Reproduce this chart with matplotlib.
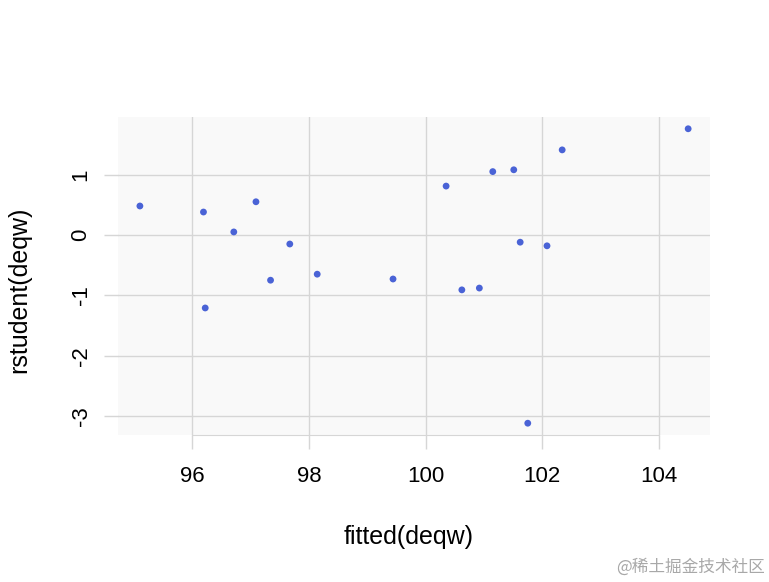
import matplotlib.pyplot as plt
import numpy as np

plt.rcParams['font.family'] = ['Liberation Sans', 'DejaVu Sans']
plt.rcParams['axes.unicode_minus'] = False

# fitted values and studentized residuals
fitted = [95.10, 96.19, 96.22, 96.71, 97.09, 97.34, 97.67, 98.14, 99.44, 100.35,
          100.62, 100.92, 101.15, 101.51, 101.62, 101.75, 102.08, 102.34, 104.50]
rstud = [0.48, 0.38, -1.21, 0.05, 0.55, -0.75, -0.15, -0.65, -0.73, 0.81,
         -0.91, -0.88, 1.05, 1.08, -0.12, -3.12, -0.18, 1.41, 1.76]
xticks = [96, 98, 100, 102, 104]
yticks = [-3, -2, -1, 0, 1]

fig = plt.figure(figsize=(7.69, 5.82), dpi=100)
ax = fig.add_axes([0.1534, 0.2526, 0.770, 0.5464])
ax.set_facecolor('#f9f9f9')

# R-style 4% padding on the ranges
xr = max(fitted) - min(fitted)
yr = max(rstud) - min(rstud)
ax.set_xlim(min(fitted) - 0.04 * xr, max(fitted) + 0.04 * xr)
ax.set_ylim(min(rstud) - 0.04 * yr, max(rstud) + 0.04 * yr)

gridc = '#d6d6d6'
ax.set_xticks(xticks)
ax.set_yticks(yticks)
ax.grid(True, color=gridc, linewidth=1)
ax.set_axisbelow(True)
ax.tick_params(axis='both', colors=gridc, length=10, width=1, labelsize=16,
               labelcolor='black')
ax.tick_params(axis='x', pad=12)
ax.tick_params(axis='y', pad=9)
for lbl in ax.get_yticklabels():
    lbl.set_rotation(90)
    lbl.set_va('center')

for s in ['top', 'right', 'left']:
    ax.spines[s].set_visible(False)
ax.spines['bottom'].set_color(gridc)
ax.spines['bottom'].set_bounds(xticks[0], xticks[-1])

ax.scatter(fitted, rstud, s=24, color='#4a63d6', edgecolors='none', zorder=3)

fig.text(409 / 769, 1 - 537 / 582, 'fitted(deqw)', ha='center', va='center', fontsize=18)
fig.text(19 / 769, 1 - 290 / 582, 'rstudent(deqw)', ha='center', va='center',
         rotation=90, fontsize=18)
fig.text(765 / 769, 1 - 567 / 582, '@稀土掘金技术社区', ha='right', va='center',
         fontsize=12, color='#a8a8a8', family=['Noto Sans CJK SC', 'DejaVu Sans'])

fig.savefig('out.png', dpi=100)
